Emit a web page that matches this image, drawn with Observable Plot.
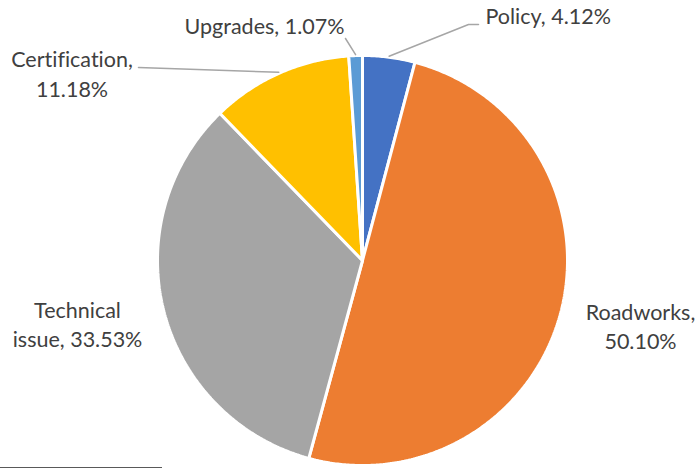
<!DOCTYPE html>
<html>
<head>
<meta charset="utf-8">
<script src="https://cdn.jsdelivr.net/npm/d3@7"></script>
<script src="https://cdn.jsdelivr.net/npm/@observablehq/plot@0.6"></script>
<style>
  html, body { margin: 0; padding: 0; background: #fff; }
  #chart { position: relative; width: 699px; height: 468px; }
  #chart svg { display: block; font-variant-ligatures: none; }
  #foot { position: absolute; left: 0; top: 466.5px; width: 162px; height: 0; border-top: 1.5px solid #595959; }
</style>
</head>
<body>
<div id="chart"><div id="foot"></div></div>
<script>
// ---- data ----
const categories = ["Policy", "Roadworks", "Technical issue", "Certification", "Upgrades"];
const values = [4.12, 50.10, 33.53, 11.18, 1.07];
const colors = ["#4472C4", "#ED7D31", "#A5A5A5", "#FFC000", "#5B9BD5"];
// how each label wraps
const labelBreaks = [null, "comma", "Technical", "comma", null];

// ---- layout ----
const W = 699, H = 468;
const cx = 362, cy = 260, R = 205;
const labelPos = [
  {x: 485, y: 17, anchor: "start"},
  {x: 640, y: 312.5, anchor: "middle"},
  {x: 77, y: 310.5, anchor: "middle"},
  {x: 71.5, y: 60, anchor: "middle"},
  {x: 264, y: 27, anchor: "middle"}
];
const leaderBends = [
  [[468, 24], [478, 24]],
  null,
  null,
  [[138, 67]],
  [[345, 38]]
];

// ---- build ----
const total = d3.sum(values);
const pie = d3.pie().sort(null).value(d => d)(values);
const slicePts = [];
pie.forEach((p, i) => {
  const a0 = p.startAngle, a1 = p.endAngle;
  const n = Math.max(4, Math.ceil((a1 - a0) / (Math.PI / 360)));
  slicePts.push({cat: categories[i], x: cx, y: cy});
  for (let k = 0; k <= n; k++) {
    const a = a0 + (a1 - a0) * k / n;
    slicePts.push({cat: categories[i], x: cx + R * Math.sin(a), y: cy - R * Math.cos(a)});
  }
});

const textRows = [];
categories.forEach((c, i) => {
  const pct = (values[i] / total * 100).toFixed(2) + "%";
  let lines;
  if (labelBreaks[i] === "comma") lines = [c + ",", pct];
  else if (labelBreaks[i]) {
    const rest = c.slice(labelBreaks[i].length).trim();
    lines = [labelBreaks[i], rest + ", " + pct];
  } else lines = [c + ", " + pct];
  lines.forEach((t, j) => textRows.push({text: t, x: labelPos[i].x, y: labelPos[i].y + j * 29.5, anchor: labelPos[i].anchor}));
});

const leaderPts = [];
pie.forEach((p, i) => {
  if (!leaderBends[i]) return;
  const a = (p.startAngle + p.endAngle) / 2;
  leaderPts.push({cat: categories[i], x: cx + (R + 1) * Math.sin(a), y: cy - (R + 1) * Math.cos(a)});
  leaderBends[i].forEach(([x, y]) => leaderPts.push({cat: categories[i], x, y}));
});

const chart = Plot.plot({
  width: W, height: H, margin: 0,
  x: {domain: [0, W], range: [0, W], axis: null},
  y: {domain: [0, H], range: [0, H], axis: null},
  color: {domain: categories, range: colors},
  style: {fontFamily: "Lato, 'Open Sans', sans-serif", background: "white"},
  marks: [
    Plot.line(slicePts, {x: "x", y: "y", z: "cat", fill: "cat", stroke: "white", strokeWidth: 3, strokeLinejoin: "miter", curve: "linear-closed"}),
    Plot.line(leaderPts, {x: "x", y: "y", z: "cat", stroke: "#A6A6A6", strokeWidth: 1.5}),
    ...["start", "middle"].map(an => Plot.text(textRows.filter(d => d.anchor === an), {x: "x", y: "y", text: "text", textAnchor: an, fill: "#404040", fontSize: 21.5}))
  ]
});
document.getElementById("chart").prepend(chart);
</script>
</body>
</html>
